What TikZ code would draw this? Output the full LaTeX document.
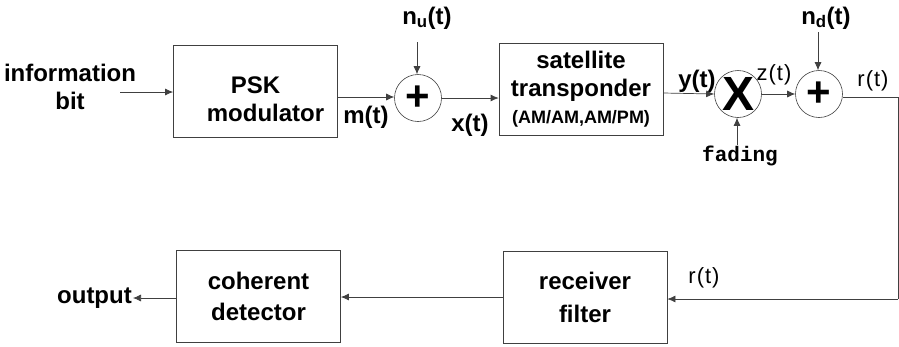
\documentclass[tikz,border=0pt]{standalone}
\usepackage{fontspec}
\setmainfont{Liberation Sans}
\newfontfamily\monofnt{Liberation Mono}
\usetikzlibrary{arrows.meta}
\begin{document}
\begin{tikzpicture}[x=1pt,y=-1pt,
  blk/.style={draw=black!75,line width=0.7pt,minimum width=164pt,minimum height=92pt,inner sep=0pt,align=center,font=\fontsize{24}{28}\selectfont\bfseries},
  junc/.style={circle,draw=black!75,line width=0.6pt,minimum size=47pt,inner sep=0pt},
  lbl/.style={font=\fontsize{24}{28}\selectfont\bfseries,inner sep=1pt},
  rlbl/.style={font=\fontsize{22}{26}\selectfont,inner sep=1pt},
  conn/.style={draw=black!75,line width=0.7pt},
  arr/.style={conn,-{Latex[length=8pt,width=7pt]}}]
\useasboundingbox (0,0) rectangle (899,346);
% blocks
\node[blk,label={[lbl,align=center,yshift=-8pt]center:PSK\\\hspace*{20pt}modulator}] (psk) at (255.5,91) {};
\node[blk] (sat) at (581,89) {satellite\\transponder\\[-1pt]{\fontsize{18}{20}\selectfont(AM/AM,AM/PM)}};
\node[blk,font=\fontsize{24}{33}\selectfont\bfseries] (rx) at (585,297) {receiver\\filter};
\node[blk,font=\fontsize{24}{31}\selectfont\bfseries] (det) at (258.5,296) {coherent\\detector};
% junctions
\node[junc] (s1) at (418,98) {\fontsize{42}{42}\selectfont\bfseries +};
\node[junc] (mul) at (738,94) {\fontsize{48}{48}\selectfont\bfseries X};
\node[junc] (s2) at (819,94) {\fontsize{42}{42}\selectfont\bfseries +};
% labels
\node[lbl,align=center] (info) at (70,87) {information\\bit};
\node[lbl] (nu) at (427,18) {n\textsubscript{u}(t)};
\node[lbl] (nd) at (826,18) {n\textsubscript{d}(t)};
\node[lbl] (mt) at (366,117) {m(t)};
\node[lbl] (xt) at (470,125) {x(t)};
\node[lbl] (yt) at (697,81) {y(t)};
\node[rlbl] (zt) at (774,75) {z\kern1pt(\kern1pt t\kern1pt)};
\node[rlbl] (rt1) at (873,81) {r\kern1pt(\kern1pt t\kern1pt)};
\node[rlbl] (rt2) at (704,278) {r\kern1pt(\kern1pt t\kern1pt)};
\node[font=\fontsize{21}{24}\selectfont\monofnt\bfseries] (fad) at (740,156) {fading};
\node[lbl,anchor=east] (out) at (133,298) {output};
% coordinates
\coordinate (ib) at (120,92);
\coordinate (nutop) at (417,42);
\coordinate (ndtop) at (818,32);
\coordinate (fadtop) at (737,145);
\coordinate (c1) at (898,97);
\coordinate (c2) at (898,299);
% connectors
\draw[arr] (ib) -- (ib -| psk.west);
\draw[arr] (psk.east |- 0,97) -- (s1.west |- 0,97);
\draw[arr] (nutop) -- (nutop |- s1.north);
\draw[arr] (s1.east) -- (s1.east -| sat.west);
\draw[arr] (sat.east |- 0,93) -- (mul.west);
\draw[arr] (fadtop) -- (fadtop |- mul.south);
\draw[arr] (mul.east) -- (s2.west);
\draw[arr] (ndtop) -- (ndtop |- s2.north);
\draw[conn] (s2.east |- 0,97) -- (c1) -- (c2);
\draw[arr] (c2) -- (c2 -| rx.east);
\draw[arr] (rx.west |- 0,297) -- (det.east |- 0,297);
\draw[arr] (det.west |- 0,298) -- (out.east);
\end{tikzpicture}
\end{document}
